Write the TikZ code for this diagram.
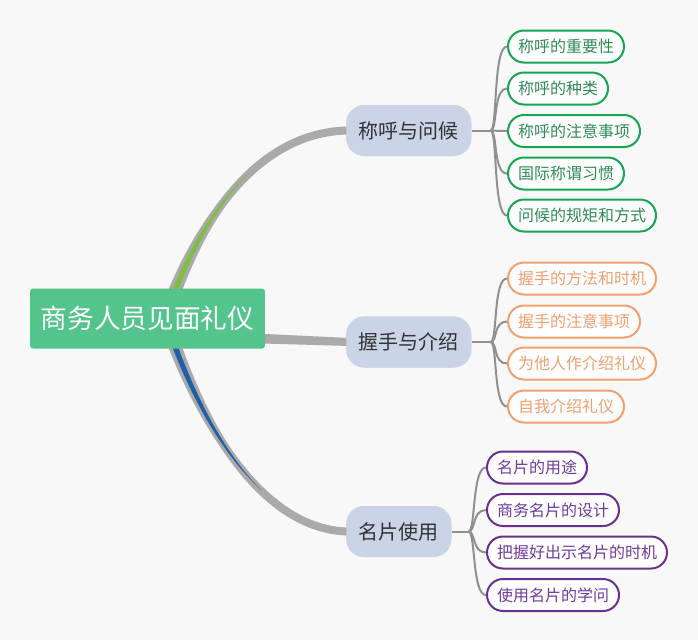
\documentclass[tikz,border=0pt]{standalone}
\usepackage{fontspec}
\setmainfont{Noto Sans CJK SC}
\usetikzlibrary{calc}
\definecolor{bgc}{HTML}{F8F8F8}
\definecolor{branchc}{HTML}{AAAAAA}
\definecolor{greenacc}{HTML}{7DBF3F}
\definecolor{blueacc}{HTML}{1F5FA8}
\definecolor{rootc}{HTML}{52C48C}
\definecolor{mainc}{HTML}{C9D4E7}
\definecolor{maintext}{HTML}{333333}
\definecolor{linec}{HTML}{909090}
\definecolor{gborder}{HTML}{17A550}
\definecolor{gtext}{HTML}{2E8B57}
\definecolor{oborder}{HTML}{F2A06E}
\definecolor{otext}{HTML}{F0A070}
\definecolor{pborder}{HTML}{6B2F8F}
\definecolor{ptext}{HTML}{6F3A9E}
\begin{document}
\begin{tikzpicture}[x=0.75pt,y=-0.75pt,
  rootbox/.style={fill=rootc, text=white, rounded corners=2.25pt, inner xsep=8.1pt,
    minimum height=45pt, font=\fontsize{20pt}{24pt}\selectfont},
  mainbox/.style={fill=mainc, text=maintext, rounded corners=13.5pt, inner xsep=9.4pt,
    minimum height=38.25pt, font=\fontsize{15pt}{18pt}\selectfont, anchor=west},
  leafbox/.style={fill=white, line width=1.5pt, rounded corners=12pt, inner xsep=7.5pt,
    minimum height=24pt, font=\fontsize{12pt}{14pt}\selectfont, anchor=west},
  gleaf/.style={leafbox, draw=gborder, text=gtext},
  oleaf/.style={leafbox, draw=oborder, text=otext},
  pleaf/.style={leafbox, draw=pborder, text=ptext},
  leafline/.style={draw=linec, line width=1.5pt},
  branch/.style={fill=branchc},
  branchline/.style={draw=branchc, line width=6pt}
]
\fill[bgc] (0,0) rectangle (698,640);
\useasboundingbox (0,0) rectangle (698,640);

% main nodes
\node[mainbox] (n1) at (346,130.5) {称呼与问候};
\node[mainbox] (n2) at (346,342) {握手与介绍};
\node[mainbox] (n3) at (346,531.5) {名片使用};
\coordinate (o) at (165,318);

% thick branches
\draw[branchline] (o) .. controls ($(o)+(40,-118)$) and ($(n1.west)+(-76,0)$) .. ($(n1.west)+(4,0)$);
\fill[branch] ($(o)+(-6.65,-2.24)$) .. controls ($(o)+(35,-119.5)$) and ($(n1.west)+(-76,-1)$) .. ($(n1.west)+(4,0)$)
  .. controls ($(n1.west)+(-76,1)$) and ($(o)+(45,-116.5)$) .. ($(o)+(6.65,2.24)$) -- cycle;
\draw[branchline] (o) .. controls ($(o)+(40,122)$) and ($(n3.west)+(-76,0)$) .. ($(n3.west)+(4,0)$);
\fill[branch] ($(o)+(-6.65,2.24)$) .. controls ($(o)+(35,123.5)$) and ($(n3.west)+(-76,1)$) .. ($(n3.west)+(4,0)$)
  .. controls ($(n3.west)+(-76,-1)$) and ($(o)+(45,120.5)$) .. ($(o)+(6.65,-2.24)$) -- cycle;
\fill[branch] ($(o)+(80,15)$) -- ($(n2.west)+(4,-4)$) -- ($(n2.west)+(4,4)$) -- ($(o)+(80,25)$) -- cycle;

% accents
\fill[greenacc] ($(o)+(2.8,1)$) .. controls ($(o)+(24.6,-65.2)$) and ($(o)+(53.6,-116.6)$) .. ($(o)+(88.9,-149.2)$)
  .. controls ($(o)+(51.6,-117.6)$) and ($(o)+(20.2,-67)$) .. ($(o)+(-2.8,-1)$) -- cycle;
\fill[blueacc] ($(o)+(2.8,-0.8)$) .. controls ($(o)+(26.4,72.5)$) and ($(o)+(58,134.5)$) .. ($(o)+(96.8,172.5)$)
  .. controls ($(o)+(56,135.3)$) and ($(o)+(21.6,73.9)$) .. ($(o)+(-2.8,0.8)$) -- cycle;

% root
\node[rootbox] (root) at (147.5,318.5) {商务人员见面礼仪};

% redraw main nodes on top
\node[mainbox] at (346,130.5) {称呼与问候};
\node[mainbox] at (346,342) {握手与介绍};
\node[mainbox] at (346,531.5) {名片使用};

% leaves group 1
\node[gleaf] (a1) at (507,46.5) {称呼的重要性};
\node[gleaf] (a2) at (507,88.5) {称呼的种类};
\node[gleaf] (a3) at (507,131) {称呼的注意事项};
\node[gleaf] (a4) at (507,173.5) {国际称谓习惯};
\node[gleaf] (a5) at (507,215.5) {问候的规矩和方式};
% leaves group 2
\node[oleaf] (b1) at (507,278.5) {握手的方法和时机};
\node[oleaf] (b2) at (507,321.5) {握手的注意事项};
\node[oleaf] (b3) at (507,363.5) {为他人作介绍礼仪};
\node[oleaf] (b4) at (507,406.5) {自我介绍礼仪};
% leaves group 3
\node[pleaf] (c1) at (486,467.5) {名片的用途};
\node[pleaf] (c2) at (486,510) {商务名片的设计};
\node[pleaf] (c3) at (486,552.5) {把握好出示名片的时机};
\node[pleaf] (c4) at (486,595) {使用名片的学问};

% junctions
\coordinate (j1) at ($(n1.east)+(19,0)$);
\coordinate (j2) at ($(n2.east)+(19,0)$);
\coordinate (j3) at ($(n3.east)+(17,0)$);
\draw[leafline] (n1.east) -- (j1);
\draw[leafline] (n2.east) -- (j2);
\draw[leafline] (n3.east) -- (j3);
\foreach \l in {a1,a2,a3,a4,a5}{\draw[leafline] (j1) .. controls +(7,0) and +(-14,0) .. (\l.west);}
\foreach \l in {b1,b2,b3,b4}{\draw[leafline] (j2) .. controls +(7,0) and +(-14,0) .. (\l.west);}
\foreach \l in {c1,c2,c3,c4}{\draw[leafline] (j3) .. controls +(7,0) and +(-14,0) .. (\l.west);}
\end{tikzpicture}
\end{document}
